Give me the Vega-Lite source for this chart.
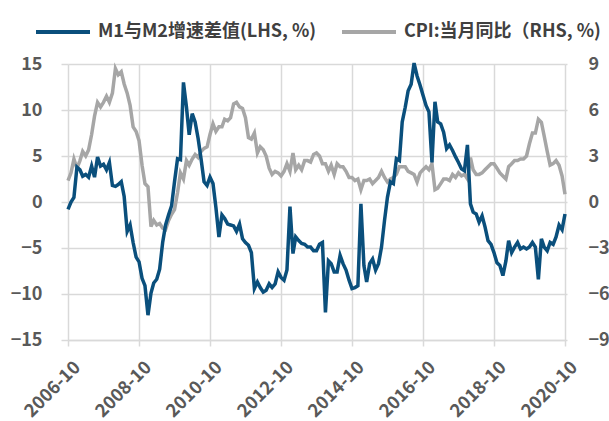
{
  "$schema": "https://vega.github.io/schema/vega-lite/v6.json",
  "width": 497,
  "height": 276,
  "autosize": {"type": "none"},
  "padding": {"left": 68, "top": 64, "right": 44, "bottom": 81},
  "background": "white",
  "config": {
    "view": {"stroke": null},
    "axis": {
      "labelFont": "Noto Sans CJK SC",
      "labelFontSize": 18,
      "labelFontWeight": "bold",
      "labelColor": "#595959",
      "gridColor": "#d9d9d9",
      "gridWidth": 1.5,
      "tickColor": "#d9d9d9",
      "tickWidth": 1.5,
      "domainColor": "#d9d9d9",
      "domainWidth": 1.5,
      "title": null
    }
  },
  "data": {
    "values": [
      {"date": "2006-10-01", "m1m2": -0.8, "cpi": 1.4},
      {"date": "2006-11-01", "m1m2": 0.0, "cpi": 1.9},
      {"date": "2006-12-01", "m1m2": 0.5, "cpi": 2.8},
      {"date": "2007-01-01", "m1m2": 3.8, "cpi": 2.2},
      {"date": "2007-02-01", "m1m2": 3.5, "cpi": 2.7},
      {"date": "2007-03-01", "m1m2": 2.8, "cpi": 3.3},
      {"date": "2007-04-01", "m1m2": 3.0, "cpi": 3.0},
      {"date": "2007-05-01", "m1m2": 2.7, "cpi": 3.4},
      {"date": "2007-06-01", "m1m2": 3.9, "cpi": 4.4},
      {"date": "2007-07-01", "m1m2": 2.7, "cpi": 5.6},
      {"date": "2007-08-01", "m1m2": 4.9, "cpi": 6.5},
      {"date": "2007-09-01", "m1m2": 3.9, "cpi": 6.2},
      {"date": "2007-10-01", "m1m2": 4.1, "cpi": 6.5},
      {"date": "2007-11-01", "m1m2": 3.5, "cpi": 6.9},
      {"date": "2007-12-01", "m1m2": 4.3, "cpi": 6.5},
      {"date": "2008-01-01", "m1m2": 1.8, "cpi": 7.1},
      {"date": "2008-02-01", "m1m2": 1.7, "cpi": 8.7},
      {"date": "2008-03-01", "m1m2": 1.9, "cpi": 8.3},
      {"date": "2008-04-01", "m1m2": 2.2, "cpi": 8.5},
      {"date": "2008-05-01", "m1m2": 0.6, "cpi": 7.7},
      {"date": "2008-06-01", "m1m2": -3.2, "cpi": 7.1},
      {"date": "2008-07-01", "m1m2": -2.5, "cpi": 6.3},
      {"date": "2008-08-01", "m1m2": -4.4, "cpi": 4.9},
      {"date": "2008-09-01", "m1m2": -6.0, "cpi": 4.6},
      {"date": "2008-10-01", "m1m2": -6.5, "cpi": 4.0},
      {"date": "2008-11-01", "m1m2": -8.3, "cpi": 2.4},
      {"date": "2008-12-01", "m1m2": -9.1, "cpi": 1.2},
      {"date": "2009-01-01", "m1m2": -12.3, "cpi": 1.0},
      {"date": "2009-02-01", "m1m2": -9.9, "cpi": -1.6},
      {"date": "2009-03-01", "m1m2": -8.8, "cpi": -1.2},
      {"date": "2009-04-01", "m1m2": -8.4, "cpi": -1.5},
      {"date": "2009-05-01", "m1m2": -7.3, "cpi": -1.4},
      {"date": "2009-06-01", "m1m2": -4.4, "cpi": -1.7},
      {"date": "2009-07-01", "m1m2": -2.5, "cpi": -1.8},
      {"date": "2009-08-01", "m1m2": -1.4, "cpi": -1.2},
      {"date": "2009-09-01", "m1m2": -0.4, "cpi": -0.8},
      {"date": "2009-10-01", "m1m2": 2.2, "cpi": -0.5},
      {"date": "2009-11-01", "m1m2": 4.7, "cpi": 0.6},
      {"date": "2009-12-01", "m1m2": 4.6, "cpi": 1.9},
      {"date": "2010-01-01", "m1m2": 13.0, "cpi": 1.5},
      {"date": "2010-02-01", "m1m2": 10.3, "cpi": 2.7},
      {"date": "2010-03-01", "m1m2": 7.3, "cpi": 2.4},
      {"date": "2010-04-01", "m1m2": 9.6, "cpi": 2.8},
      {"date": "2010-05-01", "m1m2": 8.7, "cpi": 3.1},
      {"date": "2010-06-01", "m1m2": 6.9, "cpi": 2.9},
      {"date": "2010-07-01", "m1m2": 4.7, "cpi": 3.3},
      {"date": "2010-08-01", "m1m2": 2.2, "cpi": 3.5},
      {"date": "2010-09-01", "m1m2": 1.8, "cpi": 3.6},
      {"date": "2010-10-01", "m1m2": 2.7, "cpi": 4.4},
      {"date": "2010-11-01", "m1m2": 2.0, "cpi": 5.1},
      {"date": "2010-12-01", "m1m2": -0.6, "cpi": 4.6},
      {"date": "2011-01-01", "m1m2": -3.8, "cpi": 4.9},
      {"date": "2011-02-01", "m1m2": -1.4, "cpi": 4.9},
      {"date": "2011-03-01", "m1m2": -1.8, "cpi": 5.4},
      {"date": "2011-04-01", "m1m2": -2.4, "cpi": 5.3},
      {"date": "2011-05-01", "m1m2": -2.5, "cpi": 5.5},
      {"date": "2011-06-01", "m1m2": -2.6, "cpi": 6.4},
      {"date": "2011-07-01", "m1m2": -3.2, "cpi": 6.5},
      {"date": "2011-08-01", "m1m2": -2.4, "cpi": 6.2},
      {"date": "2011-09-01", "m1m2": -4.0, "cpi": 6.1},
      {"date": "2011-10-01", "m1m2": -4.4, "cpi": 5.5},
      {"date": "2011-11-01", "m1m2": -4.7, "cpi": 4.2},
      {"date": "2011-12-01", "m1m2": -5.5, "cpi": 4.1},
      {"date": "2012-01-01", "m1m2": -9.4, "cpi": 4.5},
      {"date": "2012-02-01", "m1m2": -8.7, "cpi": 3.2},
      {"date": "2012-03-01", "m1m2": -9.3, "cpi": 3.6},
      {"date": "2012-04-01", "m1m2": -9.8, "cpi": 3.4},
      {"date": "2012-05-01", "m1m2": -9.6, "cpi": 3.0},
      {"date": "2012-06-01", "m1m2": -8.9, "cpi": 2.2},
      {"date": "2012-07-01", "m1m2": -9.3, "cpi": 1.8},
      {"date": "2012-08-01", "m1m2": -8.9, "cpi": 2.0},
      {"date": "2012-09-01", "m1m2": -7.6, "cpi": 1.9},
      {"date": "2012-10-01", "m1m2": -8.2, "cpi": 1.7},
      {"date": "2012-11-01", "m1m2": -8.5, "cpi": 2.0},
      {"date": "2012-12-01", "m1m2": -7.4, "cpi": 2.5},
      {"date": "2013-01-01", "m1m2": -0.5, "cpi": 2.0},
      {"date": "2013-02-01", "m1m2": -5.6, "cpi": 3.2},
      {"date": "2013-03-01", "m1m2": -3.8, "cpi": 2.1},
      {"date": "2013-04-01", "m1m2": -4.2, "cpi": 2.4},
      {"date": "2013-05-01", "m1m2": -4.5, "cpi": 2.1},
      {"date": "2013-06-01", "m1m2": -4.6, "cpi": 2.7},
      {"date": "2013-07-01", "m1m2": -4.9, "cpi": 2.7},
      {"date": "2013-08-01", "m1m2": -4.9, "cpi": 2.6},
      {"date": "2013-09-01", "m1m2": -5.3, "cpi": 3.1},
      {"date": "2013-10-01", "m1m2": -5.3, "cpi": 3.2},
      {"date": "2013-11-01", "m1m2": -4.6, "cpi": 3.0},
      {"date": "2013-12-01", "m1m2": -4.4, "cpi": 2.5},
      {"date": "2014-01-01", "m1m2": -12.0, "cpi": 2.5},
      {"date": "2014-02-01", "m1m2": -6.4, "cpi": 2.0},
      {"date": "2014-03-01", "m1m2": -6.7, "cpi": 2.4},
      {"date": "2014-04-01", "m1m2": -7.6, "cpi": 1.8},
      {"date": "2014-05-01", "m1m2": -7.6, "cpi": 2.5},
      {"date": "2014-06-01", "m1m2": -5.8, "cpi": 2.3},
      {"date": "2014-07-01", "m1m2": -6.7, "cpi": 2.3},
      {"date": "2014-08-01", "m1m2": -7.4, "cpi": 2.0},
      {"date": "2014-09-01", "m1m2": -8.5, "cpi": 1.6},
      {"date": "2014-10-01", "m1m2": -9.4, "cpi": 1.6},
      {"date": "2014-11-01", "m1m2": -9.3, "cpi": 1.4},
      {"date": "2014-12-01", "m1m2": -9.1, "cpi": 1.5},
      {"date": "2015-01-01", "m1m2": -0.2, "cpi": 0.8},
      {"date": "2015-02-01", "m1m2": -6.9, "cpi": 1.4},
      {"date": "2015-03-01", "m1m2": -8.7, "cpi": 1.4},
      {"date": "2015-04-01", "m1m2": -6.7, "cpi": 1.5},
      {"date": "2015-05-01", "m1m2": -6.2, "cpi": 1.2},
      {"date": "2015-06-01", "m1m2": -7.4, "cpi": 1.4},
      {"date": "2015-07-01", "m1m2": -6.7, "cpi": 1.6},
      {"date": "2015-08-01", "m1m2": -4.9, "cpi": 2.0},
      {"date": "2015-09-01", "m1m2": -2.0, "cpi": 1.6},
      {"date": "2015-10-01", "m1m2": 0.5, "cpi": 1.3},
      {"date": "2015-11-01", "m1m2": 2.2, "cpi": 1.5},
      {"date": "2015-12-01", "m1m2": 2.0, "cpi": 1.6},
      {"date": "2016-01-01", "m1m2": 4.7, "cpi": 1.8},
      {"date": "2016-02-01", "m1m2": 4.5, "cpi": 2.3},
      {"date": "2016-03-01", "m1m2": 8.7, "cpi": 2.3},
      {"date": "2016-04-01", "m1m2": 10.3, "cpi": 2.3},
      {"date": "2016-05-01", "m1m2": 12.1, "cpi": 2.0},
      {"date": "2016-06-01", "m1m2": 12.8, "cpi": 1.9},
      {"date": "2016-07-01", "m1m2": 15.1, "cpi": 1.8},
      {"date": "2016-08-01", "m1m2": 13.7, "cpi": 1.3},
      {"date": "2016-09-01", "m1m2": 12.7, "cpi": 1.9},
      {"date": "2016-10-01", "m1m2": 11.6, "cpi": 2.1},
      {"date": "2016-11-01", "m1m2": 10.5, "cpi": 2.3},
      {"date": "2016-12-01", "m1m2": 9.8, "cpi": 2.1},
      {"date": "2017-01-01", "m1m2": 4.3, "cpi": 2.5},
      {"date": "2017-02-01", "m1m2": 10.9, "cpi": 0.8},
      {"date": "2017-03-01", "m1m2": 8.7, "cpi": 0.9},
      {"date": "2017-04-01", "m1m2": 8.5, "cpi": 1.2},
      {"date": "2017-05-01", "m1m2": 7.6, "cpi": 1.5},
      {"date": "2017-06-01", "m1m2": 5.8, "cpi": 1.5},
      {"date": "2017-07-01", "m1m2": 6.2, "cpi": 1.4},
      {"date": "2017-08-01", "m1m2": 5.6, "cpi": 1.8},
      {"date": "2017-09-01", "m1m2": 4.9, "cpi": 1.6},
      {"date": "2017-10-01", "m1m2": 4.3, "cpi": 1.9},
      {"date": "2017-11-01", "m1m2": 3.6, "cpi": 1.7},
      {"date": "2017-12-01", "m1m2": 3.4, "cpi": 1.8},
      {"date": "2018-01-01", "m1m2": 6.2, "cpi": 1.5},
      {"date": "2018-02-01", "m1m2": -0.2, "cpi": 2.9},
      {"date": "2018-03-01", "m1m2": -1.1, "cpi": 2.1},
      {"date": "2018-04-01", "m1m2": -1.3, "cpi": 1.8},
      {"date": "2018-05-01", "m1m2": -2.2, "cpi": 1.8},
      {"date": "2018-06-01", "m1m2": -1.5, "cpi": 1.9},
      {"date": "2018-07-01", "m1m2": -2.7, "cpi": 2.1},
      {"date": "2018-08-01", "m1m2": -4.2, "cpi": 2.3},
      {"date": "2018-09-01", "m1m2": -4.6, "cpi": 2.5},
      {"date": "2018-10-01", "m1m2": -5.5, "cpi": 2.5},
      {"date": "2018-11-01", "m1m2": -6.6, "cpi": 2.2},
      {"date": "2018-12-01", "m1m2": -6.9, "cpi": 1.9},
      {"date": "2019-01-01", "m1m2": -8.0, "cpi": 1.7},
      {"date": "2019-02-01", "m1m2": -6.4, "cpi": 1.5},
      {"date": "2019-03-01", "m1m2": -4.2, "cpi": 2.3},
      {"date": "2019-04-01", "m1m2": -5.5, "cpi": 2.5},
      {"date": "2019-05-01", "m1m2": -4.9, "cpi": 2.7},
      {"date": "2019-06-01", "m1m2": -4.4, "cpi": 2.7},
      {"date": "2019-07-01", "m1m2": -5.1, "cpi": 2.8},
      {"date": "2019-08-01", "m1m2": -4.9, "cpi": 2.8},
      {"date": "2019-09-01", "m1m2": -5.1, "cpi": 3.0},
      {"date": "2019-10-01", "m1m2": -4.9, "cpi": 3.8},
      {"date": "2019-11-01", "m1m2": -4.4, "cpi": 4.5},
      {"date": "2019-12-01", "m1m2": -4.9, "cpi": 4.5},
      {"date": "2020-01-01", "m1m2": -8.4, "cpi": 5.4},
      {"date": "2020-02-01", "m1m2": -4.0, "cpi": 5.2},
      {"date": "2020-03-01", "m1m2": -4.9, "cpi": 4.3},
      {"date": "2020-04-01", "m1m2": -5.3, "cpi": 3.3},
      {"date": "2020-05-01", "m1m2": -4.4, "cpi": 2.4},
      {"date": "2020-06-01", "m1m2": -4.6, "cpi": 2.5},
      {"date": "2020-07-01", "m1m2": -3.8, "cpi": 2.7},
      {"date": "2020-08-01", "m1m2": -2.5, "cpi": 2.4},
      {"date": "2020-09-01", "m1m2": -3.0, "cpi": 1.7},
      {"date": "2020-10-01", "m1m2": -1.3, "cpi": 0.5}
    ]
  },
  "encoding": {
    "x": {
      "field": "date",
      "type": "temporal",
      "scale": {
        "type": "utc",
        "domain": [
          {"year": 2006, "month": 10, "date": 1, "utc": true},
          {"year": 2020, "month": 10, "date": 1, "utc": true}
        ]
      },
      "axis": {
        "values": [
          {"year": 2006, "month": 10, "date": 1, "utc": true},
          {"year": 2008, "month": 10, "date": 1, "utc": true},
          {"year": 2010, "month": 10, "date": 1, "utc": true},
          {"year": 2012, "month": 10, "date": 1, "utc": true},
          {"year": 2014, "month": 10, "date": 1, "utc": true},
          {"year": 2016, "month": 10, "date": 1, "utc": true},
          {"year": 2018, "month": 10, "date": 1, "utc": true},
          {"year": 2020, "month": 10, "date": 1, "utc": true}
        ],
        "labelExpr": "utcFormat(datum.value, '%Y-%m')",
        "labelAngle": -45,
        "tickSize": 6,
        "labelPadding": 12,
        "labelOffset": 3,
        "grid": true,
        "domain": true
      }
    }
  },
  "layer": [
    {
      "mark": {"type": "line", "strokeWidth": 3.5},
      "encoding": {
        "y": {
          "field": "cpi",
          "type": "quantitative",
          "scale": {"domain": [-9, 9], "nice": false, "zero": false},
          "axis": {
            "orient": "right",
            "values": [-9, -6, -3, 0, 3, 6, 9],
            "grid": false,
            "domain": false,
            "tickSize": 2,
            "labelPadding": 21,
            "labelAlign": "left"
          }
        },
        "color": {
          "datum": "CPI:当月同比（RHS, %)",
          "type": "nominal",
          "scale": {
            "domain": ["M1与M2增速差值(LHS, %)", "CPI:当月同比（RHS, %)"],
            "range": ["#0a4f7c", "#a6a6a6"]
          },
          "legend": {
            "orient": "none",
            "legendX": -34,
            "legendY": -61,
            "direction": "horizontal",
            "title": null,
            "symbolType": "stroke",
            "symbolSize": 2916,
            "symbolStrokeWidth": 4,
            "labelFont": "Noto Sans CJK SC",
            "labelFontSize": 18,
            "labelFontWeight": "bold",
            "labelColor": "#404040",
            "labelLimit": 500,
            "labelOffset": 6,
            "columnPadding": 17
          }
        }
      }
    },
    {
      "mark": {"type": "line", "strokeWidth": 3.5},
      "encoding": {
        "y": {
          "field": "m1m2",
          "type": "quantitative",
          "scale": {"domain": [-15, 15], "nice": false, "zero": false},
          "axis": {
            "orient": "left",
            "values": [-15, -10, -5, 0, 5, 10, 15],
            "grid": true,
            "domain": false,
            "tickSize": 7,
            "labelPadding": 19
          }
        },
        "color": {"datum": "M1与M2增速差值(LHS, %)", "type": "nominal"}
      }
    }
  ],
  "resolve": {"scale": {"y": "independent"}}
}
